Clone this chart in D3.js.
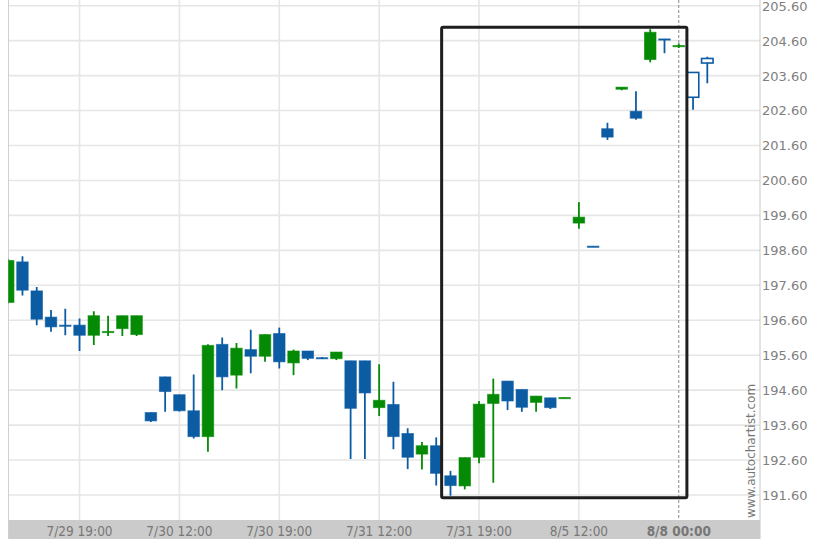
<!DOCTYPE html>
<html><head><meta charset="utf-8">
<script src="https://cdn.jsdelivr.net/npm/d3@7/dist/d3.min.js"></script>
<style>html,body{margin:0;padding:0;background:#fff;}svg{display:block;}</style>
</head><body>
<script>
// ---- data ----
const opens  = [197.11,198.27,197.44,196.69,196.46,196.46,196.17,196.26,196.36,196.19,
                193.96,194.98,194.47,194.01,193.27,195.91,195.03,195.76,195.57,196.22,
                195.38,195.72,195.53,195.50,195.44,195.44,194.10,194.19,193.36,192.77,
                193.01,192.15,191.86,192.68,194.22,194.86,194.62,194.25,194.38,194.37,
                199.38,198.72,202.08,203.21,202.58,204.06,204.65,204.44,202.98,203.96];
const highs  = [198.35,198.43,197.55,196.89,196.93,196.65,196.86,196.73,196.73,196.73,
                193.96,194.98,194.47,195.05,195.91,196.11,195.95,196.33,196.19,196.39,
                195.76,195.72,195.55,195.69,195.44,195.44,195.34,194.84,193.51,193.12,
                193.25,192.29,192.67,194.29,194.93,194.86,194.62,194.43,194.38,194.39,
                199.98,198.72,202.25,203.27,203.15,204.93,204.65,204.52,203.69,204.14];
const lows   = [197.08,197.31,196.46,196.27,196.17,195.72,195.89,196.15,196.15,196.15,
                193.69,193.98,193.99,193.22,192.84,194.60,194.65,195.08,195.41,195.22,
                195.03,195.46,195.49,195.46,192.63,192.63,193.86,192.91,192.34,192.33,
                191.87,191.58,191.76,192.51,191.95,194.03,193.98,193.98,194.06,194.37,
                199.22,198.70,201.76,203.18,202.34,203.98,204.24,204.39,202.62,203.38];
const closes = [198.31,197.46,196.63,196.41,196.44,196.17,196.73,196.28,196.73,196.73,
                193.72,194.56,194.01,193.27,195.88,194.98,195.80,195.57,196.19,195.41,
                195.72,195.51,195.51,195.69,194.08,194.52,194.31,193.27,192.68,193.01,
                192.22,191.87,192.67,194.20,194.48,194.29,194.11,194.43,194.10,194.39,
                199.55,198.70,201.84,203.27,202.38,204.84,204.63,204.46,203.69,204.09];
const liveFlags = [48,49];          // hollow (forecast) candles
const xTickIndex  = [5,12,19,26,33,40,47];
const xTickLabels = ["7/29 19:00","7/30 12:00","7/30 19:00","7/31 12:00","7/31 19:00","8/5 12:00","8/8 00:00"];
const yTicks = [191.6,192.6,193.6,194.6,195.6,196.6,197.6,198.6,199.6,200.6,201.6,202.6,203.6,204.6,205.6];
const boxIndexRange = [30.38,47.57];
const boxValueRange = [191.52,204.98];
const nowIndex = 47;

// ---- layout ----
const W=822,H=548;
const plotL=8.5, plotR=760, plotT=0, plotB=520, bandB=539;
const x = d3.scaleLinear().domain([0,49]).range([8.2,707.3]);
const y = d3.scaleLinear().domain([191.6,205.6]).range([495,5.7]);
const BLUE="#0c5ca3", GREEN="#058a05";

const svg=d3.select("body").append("svg").attr("width",W).attr("height",H);
svg.append("defs").append("clipPath").attr("id","clip")
  .append("rect").attr("x",plotL).attr("y",plotT).attr("width",plotR-plotL).attr("height",plotB-plotT);

// grid
const grid=svg.append("g");
grid.selectAll("line.h").data(yTicks).join("line")
  .attr("x1",plotL).attr("x2",plotR).attr("y1",d=>y(d)).attr("y2",d=>y(d))
  .attr("stroke","#e6e6e6").attr("stroke-width",1.6);
grid.selectAll("line.v").data(xTickIndex.filter(i=>i!==nowIndex)).join("line")
  .attr("x1",d=>x(d)).attr("x2",d=>x(d)).attr("y1",plotT).attr("y2",plotB)
  .attr("stroke","#e6e6e6").attr("stroke-width",1.6);

// bottom band
svg.append("rect").attr("x",plotL).attr("y",plotB).attr("width",plotR-plotL).attr("height",bandB-plotB).attr("fill","#cbcbcb");
// left border & right axis
svg.append("line").attr("x1",plotL).attr("x2",plotL).attr("y1",0).attr("y2",bandB).attr("stroke","#d0d0d0").attr("stroke-width",1);
svg.append("line").attr("x1",plotR).attr("x2",plotR).attr("y1",0).attr("y2",bandB).attr("stroke","#c8c8c8").attr("stroke-width",1);

// now dashed line
svg.append("line").attr("x1",x(nowIndex)).attr("x2",x(nowIndex)).attr("y1",plotT).attr("y2",plotB)
  .attr("stroke","#888").attr("stroke-width",1).attr("stroke-dasharray","3,2");

// candles
const data=opens.map((o,i)=>({i,o,h:highs[i],l:lows[i],c:closes[i],live:liveFlags.includes(i)}));
const cg=svg.append("g").attr("clip-path","url(#clip)");
const bw=11.5;
const col=d=>d.live?BLUE:(d.c>=d.o?GREEN:BLUE);
cg.selectAll("line.wick").data(data).join("line")
  .attr("x1",d=>x(d.i)).attr("x2",d=>x(d.i)).attr("y1",d=>y(d.h)).attr("y2",d=>y(d.l))
  .attr("stroke",col).attr("stroke-width",1.8);
cg.selectAll("rect.body").data(data).join("rect")
  .attr("x",d=>x(d.i)-bw/2).attr("width",bw)
  .attr("y",d=>Math.min(y(d.o),y(d.c)))
  .attr("height",d=>Math.max(1.2,Math.abs(y(d.o)-y(d.c))))
  .attr("fill",d=>d.live?"#fff":col(d))
  .attr("stroke",d=>d.live?BLUE:col(d)).attr("stroke-opacity",d=>d.live?1:0.6)
  .attr("stroke-width",d=>d.live?1.6:1);

// pattern box
svg.append("rect")
  .attr("x",x(boxIndexRange[0])).attr("y",y(boxValueRange[1]))
  .attr("width",x(boxIndexRange[1])-x(boxIndexRange[0]))
  .attr("height",y(boxValueRange[0])-y(boxValueRange[1]))
  .attr("fill","none").attr("stroke","#1e1e1e").attr("stroke-width",3).attr("rx",1.5);

// y labels
svg.selectAll("text.y").data(yTicks).join("text")
  .attr("x",762).attr("y",d=>y(d)).attr("dy","0.38em")
  .attr("font-family","DejaVu Sans").attr("font-size",13).attr("fill","#808080")
  .text(d=>d.toFixed(2));

// x labels
svg.selectAll("text.x").data(xTickIndex).join("text")
  .attr("x",d=>x(d)).attr("y",531).attr("dy","0.36em").attr("text-anchor","middle")
  .attr("font-family","DejaVu Sans Condensed, DejaVu Sans").style("font-stretch","condensed")
  .attr("font-size",13.5).attr("fill","#777")
  .attr("font-weight",(d,i)=>d===nowIndex?"bold":"normal")
  .text((d,i)=>xTickLabels[i]);

// watermark
svg.append("text").attr("transform","translate(755,518) rotate(-90)")
  .attr("font-family","DejaVu Sans").attr("font-size",12).attr("fill","#777")
  .text("www.autochartist.com");
</script>
</body></html>
